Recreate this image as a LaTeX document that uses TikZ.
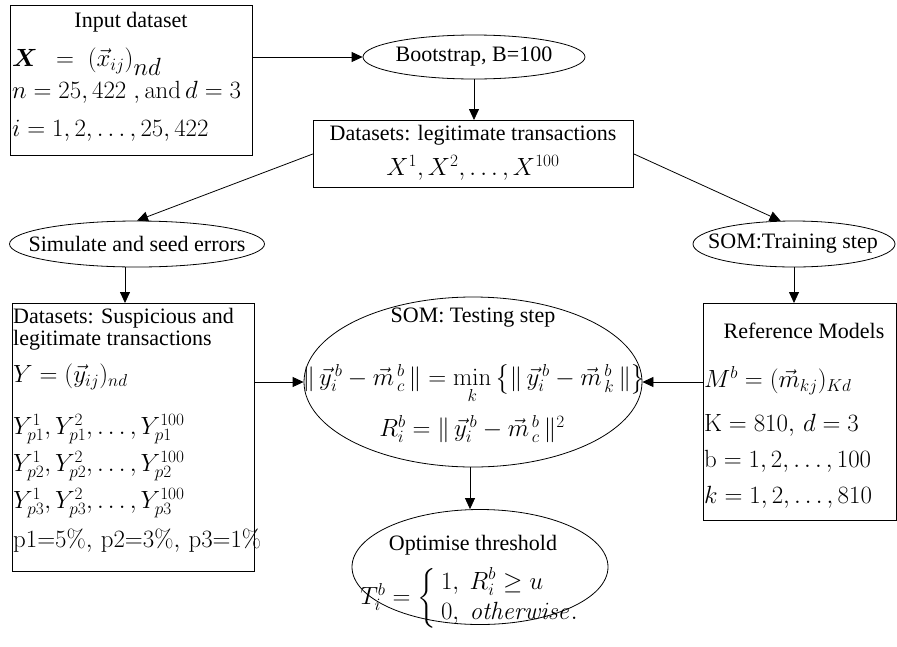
\documentclass[tikz,border=0pt]{standalone}
\usepackage{amsmath}
\usepackage[no-math]{fontspec}
\setmainfont{Liberation Serif}
\usetikzlibrary{shapes.geometric,arrows.meta}
\newcommand{\tf}{\fontsize{22}{26}\selectfont}
\newcommand{\mf}{\fontsize{25.5}{30}\selectfont}
\begin{document}
\begin{tikzpicture}[x=1pt,y=-1pt,
  box/.style={draw, line width=0.8pt, inner sep=0pt, anchor=north west},
  ell/.style={draw, ellipse, line width=0.8pt, inner sep=0pt},
  txt/.style={inner sep=0pt, font=\tf},
  mtxt/.style={inner sep=0pt, font=\mf},
  ltxt/.style={mtxt, anchor=west},
  arr/.style={-{Triangle[length=11pt,width=10pt]}, line width=0.8pt}]
\useasboundingbox (0,0) rectangle (897,646);
% Input dataset
\node[box, minimum width=242pt, minimum height=150pt] (in) at (10,5) {};
\node[txt] (inT) at (131,22) {Input dataset};
\node[ltxt] (in1) at (12,62) {$\boldsymbol{X}\hspace{0.45em}=\;(\vec{x}_{ij})_{\textstyle nd}$};
\node[ltxt] (in2) at (12,92) {$n=25,422\;,\mathrm{and}\,d=3$};
\node[ltxt] (in3) at (12,131) {$i=1,2,\ldots,25,422$};

% Bootstrap
\node[ell, minimum width=222pt, minimum height=44pt] (boot) at (474,57) {};
\node[txt] (bootT) at (474,57) {Bootstrap, B=100};

% Legitimate datasets
\node[box, minimum width=320pt, minimum height=67pt] (leg) at (313,120) {};
\node[txt] (legT) at (473,135) {Datasets: legitimate transactions};
\node[mtxt] (leg1) at (473,168) {$X^1,X^2,\ldots,X^{100}$};

% Simulate / SOM training
\node[ell, minimum width=255pt, minimum height=46pt] (sim) at (137,244) {};
\node[txt] (simT) at (137,244) {Simulate and seed errors};
\node[ell, minimum width=202pt, minimum height=46pt] (som) at (794,244) {};
\node[txt] (somT) at (793,244) {SOM:Training step};

% Left box
\node[box, minimum width=242pt, minimum height=268pt] (lb) at (12,303) {};
\node[txt, anchor=west] (lb1) at (13,318) {Datasets: Suspicious and};
\node[txt, anchor=west] (lb2) at (13,340) {legitimate transactions};
\node[ltxt] (lb3) at (13,377) {$Y=(\vec{y}_{ij})_{nd}$};
\node[ltxt] (lb4) at (13,429) {$Y_{p1}^{1},Y_{p1}^{2},\ldots,Y_{p1}^{100}$};
\node[ltxt] (lb5) at (13,466) {$Y_{p2}^{1},Y_{p2}^{2},\ldots,Y_{p2}^{100}$};
\node[ltxt] (lb6) at (13,503) {$Y_{p3}^{1},Y_{p3}^{2},\ldots,Y_{p3}^{100}$};
\node[ltxt] (lb7) at (13,541) {$\mathrm{p1{=}5\%,\,p2{=}3\%,\,p3{=}1\%}$};

% Right box
\node[box, minimum width=193pt, minimum height=217pt] (rb) at (703,303) {};
\node[txt] (rbT) at (804,331) {Reference Models};
\node[ltxt] (rb1) at (704,381) {$M^b=(\vec{m}_{kj})_{Kd}$};
\node[ltxt] (rb2) at (704,425) {$\mathrm{K}=810,\,d=3$};
\node[ltxt] (rb3) at (704,461) {$\mathrm{b}=1,2,\ldots,100$};
\node[ltxt] (rb4) at (704,497) {$k=1,2,\ldots,810$};

% SOM testing
\node[ell, minimum width=338pt, minimum height=170pt] (test) at (473,382) {};
\node[txt] (testT) at (473,318) {SOM: Testing step};
\node[mtxt] (test1) at (474,384) {$\|\,\vec{y}^{\,b}_{i}-\vec{m}^{\,b}_{\,c}\,\|=\min\limits_{k}\big\{\|\,\vec{y}^{\,b}_{i}-\vec{m}^{\,b}_{\,k}\,\|\big\}$};
\node[mtxt] (test2) at (472,429) {$R_i^b=\|\,\vec{y}^{\,b}_{i}-\vec{m}^{\,b}_{\,c}\,\|^2$};

% Optimise
\node[ell, minimum width=256pt, minimum height=115pt] (opt) at (480,567) {};
\node[txt] (optT) at (473,545) {Optimise threshold};
\node[mtxt] (opt1) at (472,598) {$T_i^b=\left\{\begin{array}{l}1,\ R_i^b\geq u\\ 0,\ \mathit{otherwise.}\end{array}\right.$};

% connectors
\draw[arr] (boot.west -| in.east) -- (boot.west);
\draw[arr] (boot.south) -- (boot.south |- leg.north);
\draw[arr] (leg.west) -- (sim.north);
\draw[arr] (leg.east) -- (som.120);
\draw[arr] ([xshift=-12pt]sim.south) -- ([xshift=-12pt]sim.south |- lb.north);
\draw[arr] (som.south) -- (som.south |- rb.north);
\draw[arr] (test.west -| lb.east) -- (test.west);
\draw[arr] (test.east -| rb.west) -- (test.east);
\draw[arr] ([xshift=-3pt]test.south) -- ([xshift=-3pt]test.south |- opt.north);
\end{tikzpicture}
\end{document}
